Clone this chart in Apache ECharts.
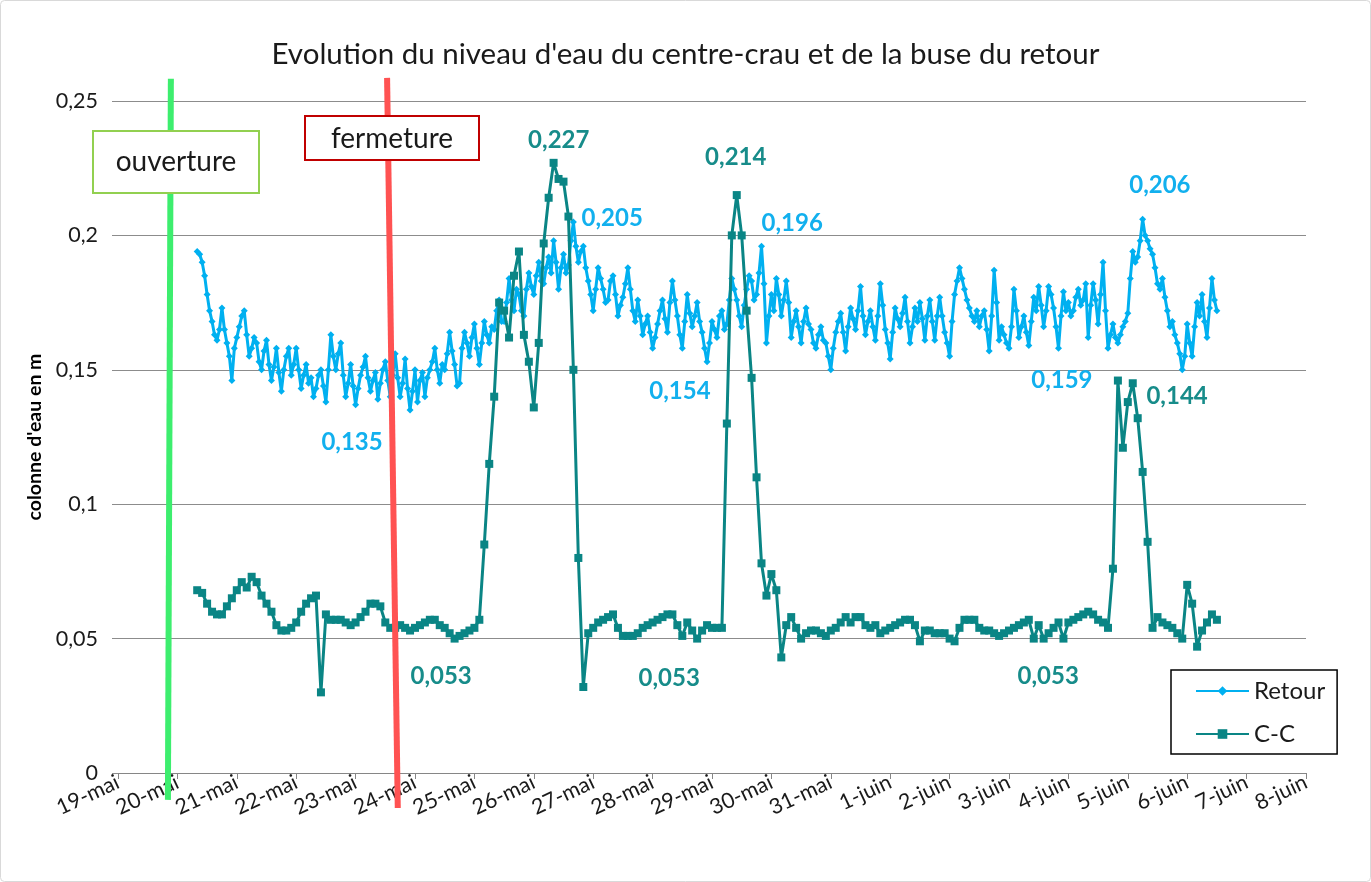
<!DOCTYPE html>
<html><head><meta charset="utf-8">
<script src="https://cdn.jsdelivr.net/npm/echarts@6/dist/echarts.min.js"></script>
<style>html,body{margin:0;padding:0;background:#fff}#c{width:1371px;height:882px}</style>
</head><body><div id="c"></div>
<script>
// x axis tick labels (one per day from 19-mai)
const tickLabels = ['19-mai','20-mai','21-mai','22-mai','23-mai','24-mai','25-mai','26-mai','27-mai','28-mai','29-mai','30-mai','31-mai','1-juin','2-juin','3-juin','4-juin','5-juin','6-juin','7-juin','8-juin'];
// sampling: first sample 20-mai 08:00 (days counted from 19-mai 00:00)
const startDay = 1 + 8/24;
const retourStepDays = 1/24;   // Retour: hourly
const ccStepDays = 2/24;       // C-C: every 2 hours
// Retour (m), hourly
const retour = [
0.194,0.193,0.190,0.185,0.178,0.172,0.168,0.163,0.161,0.165,0.173,0.165,0.160,0.155,0.146,0.158,0.162,0.166,0.170,0.172,
0.163,0.155,0.158,0.162,0.160,0.153,0.150,0.157,0.161,0.152,0.146,0.151,0.158,0.149,0.142,0.150,0.155,0.158,0.148,0.152,
0.158,0.150,0.143,0.148,0.152,0.145,0.147,0.140,0.143,0.148,0.150,0.144,0.138,0.150,0.163,0.155,0.150,0.156,0.160,0.148,
0.140,0.145,0.152,0.144,0.137,0.143,0.148,0.151,0.155,0.147,0.142,0.146,0.149,0.139,0.145,0.150,0.153,0.146,0.140,0.148,
0.156,0.147,0.140,0.145,0.154,0.143,0.135,0.142,0.150,0.138,0.146,0.149,0.140,0.147,0.150,0.153,0.158,0.150,0.145,0.152,
0.150,0.156,0.164,0.157,0.152,0.144,0.145,0.158,0.164,0.160,0.155,0.162,0.167,0.158,0.152,0.160,0.168,0.163,0.160,0.166,
0.165,0.172,0.176,0.168,0.168,0.175,0.184,0.176,0.172,0.180,0.178,0.172,0.170,0.180,0.186,0.181,0.178,0.185,0.190,0.183,
0.182,0.188,0.192,0.186,0.198,0.190,0.180,0.188,0.193,0.186,0.189,0.198,0.205,0.196,0.190,0.194,0.196,0.188,0.183,0.178,
0.172,0.180,0.188,0.184,0.180,0.175,0.176,0.183,0.185,0.178,0.170,0.174,0.177,0.182,0.188,0.180,0.172,0.168,0.176,0.170,
0.163,0.167,0.170,0.164,0.158,0.162,0.167,0.172,0.176,0.169,0.164,0.175,0.183,0.176,0.170,0.163,0.158,0.168,0.178,0.171,
0.166,0.170,0.175,0.168,0.164,0.158,0.153,0.160,0.168,0.165,0.162,0.170,0.172,0.165,0.167,0.176,0.184,0.180,0.176,0.170,
0.166,0.174,0.180,0.185,0.183,0.176,0.178,0.186,0.196,0.182,0.160,0.170,0.178,0.172,0.184,0.178,0.170,0.176,0.183,0.175,
0.162,0.168,0.172,0.166,0.160,0.168,0.173,0.167,0.165,0.160,0.158,0.163,0.166,0.161,0.160,0.155,0.150,0.158,0.164,0.168,
0.171,0.164,0.157,0.166,0.173,0.169,0.165,0.172,0.181,0.170,0.163,0.168,0.172,0.166,0.161,0.170,0.182,0.174,0.165,0.160,
0.154,0.164,0.173,0.169,0.166,0.171,0.177,0.168,0.160,0.166,0.173,0.168,0.175,0.169,0.161,0.170,0.176,0.168,0.161,0.170,
0.177,0.170,0.164,0.160,0.155,0.168,0.178,0.183,0.188,0.184,0.180,0.176,0.173,0.170,0.168,0.172,0.166,0.170,0.172,0.165,
0.157,0.170,0.187,0.175,0.161,0.166,0.163,0.160,0.158,0.166,0.180,0.172,0.162,0.166,0.170,0.164,0.159,0.168,0.177,0.172,
0.181,0.174,0.166,0.172,0.181,0.178,0.173,0.166,0.158,0.170,0.179,0.172,0.175,0.170,0.172,0.177,0.180,0.174,0.176,0.182,
0.162,0.174,0.182,0.176,0.167,0.178,0.190,0.172,0.158,0.163,0.167,0.162,0.160,0.163,0.166,0.168,0.171,0.184,0.194,0.190,
0.192,0.198,0.206,0.200,0.198,0.195,0.193,0.188,0.182,0.180,0.184,0.177,0.172,0.166,0.168,0.163,0.160,0.156,0.150,0.155,
0.167,0.160,0.155,0.166,0.175,0.170,0.178,0.168,0.162,0.173,0.184,0.176,0.172
];
// C-C (m), every 2 hours
const cc = [
0.068,0.067,0.063,0.060,0.059,0.059,0.062,0.065,0.068,0.071,
0.069,0.073,0.071,0.066,0.063,0.060,0.055,0.053,0.053,0.054,
0.056,0.060,0.063,0.065,0.066,0.030,0.059,0.057,0.057,0.057,
0.056,0.055,0.056,0.058,0.060,0.063,0.063,0.062,0.056,0.054,
0.054,0.055,0.054,0.053,0.054,0.055,0.056,0.057,0.057,0.055,
0.054,0.052,0.050,0.051,0.052,0.053,0.054,0.057,0.085,0.115,
0.140,0.175,0.172,0.162,0.185,0.194,0.163,0.153,0.136,0.160,
0.197,0.214,0.227,0.221,0.220,0.207,0.150,0.080,0.032,0.052,
0.054,0.056,0.057,0.058,0.059,0.054,0.051,0.051,0.051,0.052,
0.054,0.055,0.056,0.057,0.058,0.059,0.059,0.055,0.051,0.056,
0.053,0.050,0.053,0.055,0.054,0.054,0.054,0.130,0.200,0.215,
0.200,0.172,0.147,0.110,0.078,0.066,0.074,0.068,0.043,0.055,
0.058,0.054,0.050,0.052,0.053,0.053,0.052,0.051,0.053,0.054,
0.056,0.058,0.056,0.058,0.058,0.055,0.054,0.055,0.052,0.053,
0.054,0.055,0.056,0.057,0.057,0.055,0.049,0.053,0.053,0.052,
0.052,0.052,0.050,0.049,0.054,0.057,0.057,0.057,0.054,0.053,
0.053,0.052,0.051,0.052,0.053,0.054,0.055,0.056,0.057,0.050,
0.055,0.050,0.052,0.054,0.056,0.050,0.056,0.057,0.058,0.059,
0.060,0.059,0.057,0.056,0.054,0.076,0.146,0.121,0.138,0.145,
0.132,0.112,0.086,0.054,0.058,0.056,0.055,0.054,0.052,0.050,
0.070,0.063,0.047,0.053,0.056,0.059,0.057
];
// annotation value labels: [text, day, value]
const retourNotes = [['0,135',3.94,0.1231],['0,205',8.32,0.2065],['0,154',9.46,0.1421],['0,196',11.35,0.2046],['0,159',15.89,0.1462],['0,206',17.54,0.2188]];
const ccNotes = [['0,227',7.42,0.2355],['0,214',10.40,0.2292],['0,144',17.83,0.1403],['0,053',5.44,0.0361],['0,053',9.28,0.0353],['0,053',15.66,0.0361]];
// event lines: [day top, value top, day bottom, value bottom]
const openLine = [0.89, 0.2583, 0.84, -0.0100];
const closeLine = [4.53, 0.2586, 4.71, -0.0130];

const FONT = 'Lato, "Open Sans", sans-serif';
const C_RET = '#00B0F0', C_CC = '#0A8585';
const toPts = (arr, step) => arr.map((v,i)=>[startDay + i*step, v]);
const notes = (arr,color) => ({
  symbol:'circle', symbolSize:1, itemStyle:{color:'rgba(0,0,0,0)'},
  label:{show:true, position:'inside', formatter:p=>p.name, color:color, fontFamily:FONT, fontWeight:'bold', fontSize:24},
  data: arr.map(a=>({name:a[0], coord:[a[1],a[2]]}))
});

const chart = echarts.init(document.getElementById('c'), null, {renderer:'canvas'});
chart.setOption({
  animation:false,
  backgroundColor:'#fff',
  title:{text:"Evolution du niveau d'eau du centre-crau et de la buse du retour", left:'center', top:34,
    textStyle:{fontFamily:FONT, fontWeight:'normal', fontSize:29.5, color:'#1a1a1a'}},
  grid:{left:118, right:65, top:101, bottom:109},
  legend:{orient:'vertical', left:1171, top:670, itemWidth:53, itemHeight:12, itemGap:19,
    padding:[9,12,8,24], borderColor:'#000', borderWidth:1.5,
    textStyle:{fontFamily:FONT, fontSize:24, color:'#1a1a1a'},
    data:['Retour','C-C']},
  xAxis:{type:'value', min:0, max:20, interval:1,
    axisLine:{lineStyle:{color:'#868686', width:1}},
    axisTick:{show:true, length:6, lineStyle:{color:'#868686'}},
    splitLine:{show:false},
    axisLabel:{rotate:25, margin:8, fontFamily:FONT, fontSize:21.5, color:'#1a1a1a', formatter:v=>tickLabels[v]}},
  yAxis:{type:'value', min:0, max:0.25, interval:0.05,
    name:"colonne d'eau en m", nameLocation:'middle', nameGap:63,
    nameTextStyle:{fontFamily:FONT, fontWeight:'bold', fontSize:19.5, color:'#000'},
    axisLine:{show:false},
    axisTick:{show:true, length:6, lineStyle:{color:'#8c8c8c'}},
    splitLine:{lineStyle:{color:'#8c8c8c', width:1}},
    axisLabel:{margin:20, fontFamily:FONT, fontSize:21.5, color:'#1a1a1a', formatter:v=>String(+v.toFixed(3)).replace('.',',')}},
  series:[
    {name:'Retour', type:'line', data:toPts(retour, retourStepDays), color:C_RET,
     symbol:'diamond', symbolSize:7, lineStyle:{width:3, color:C_RET}, itemStyle:{color:C_RET},
     markPoint:notes(retourNotes, '#12B0EE'), z:3},
    {name:'C-C', type:'line', data:toPts(cc, ccStepDays), color:C_CC,
     symbol:'rect', symbolSize:8, lineStyle:{width:3, color:C_CC}, itemStyle:{color:C_CC},
     markPoint:notes(ccNotes, '#178C8A'), z:4}
  ]
});

function px(d,v){ return chart.convertToPixel({gridIndex:0},[d,v]); }
const o1 = px(openLine[0],openLine[1]), o2 = px(openLine[2],openLine[3]);
const c1 = px(closeLine[0],closeLine[1]), c2 = px(closeLine[2],closeLine[3]);
chart.setOption({graphic:[
  {type:'rect', shape:{x:0.5,y:0.5,width:1370,height:881,r:4}, style:{fill:'none', stroke:'#d9d9d9', lineWidth:1}, z:0},
  {type:'line', shape:{x1:o1[0],y1:o1[1],x2:o2[0],y2:o2[1]}, style:{stroke:'#3DEE6E', lineWidth:6}, z:50},
  {type:'line', shape:{x1:c1[0],y1:c1[1],x2:c2[0],y2:c2[1]}, style:{stroke:'#FF5252', lineWidth:6}, z:50},
  {type:'rect', x:93, y:131, shape:{x:0,y:0,width:166,height:62}, style:{fill:'#fff', stroke:'#92D050', lineWidth:2}, z:100},
  {type:'text', x:176, y:162, style:{text:'ouverture', align:'center', verticalAlign:'middle', font:'28px '+FONT, fill:'#1a1a1a'}, z:101},
  {type:'rect', x:305, y:116, shape:{x:0,y:0,width:174,height:44}, style:{fill:'#fff', stroke:'#C00000', lineWidth:2}, z:100},
  {type:'text', x:392, y:139, style:{text:'fermeture', align:'center', verticalAlign:'middle', font:'28px '+FONT, fill:'#1a1a1a'}, z:101}
]});
</script></body></html>
